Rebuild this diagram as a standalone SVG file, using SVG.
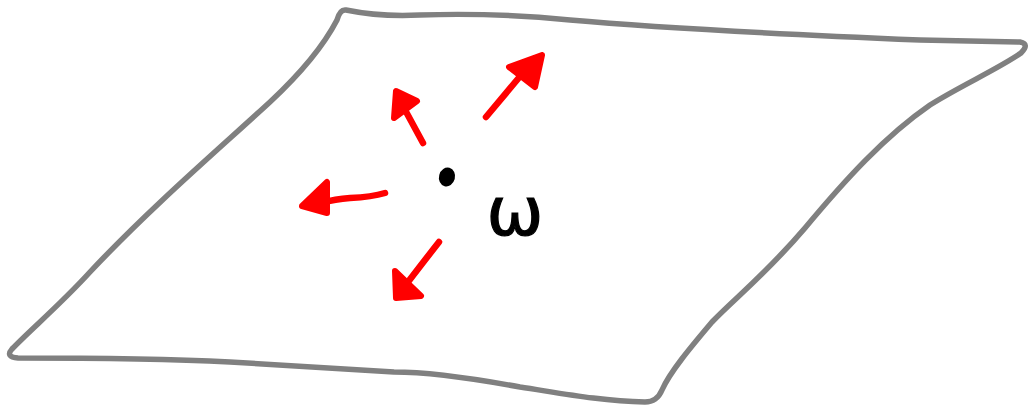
<svg xmlns="http://www.w3.org/2000/svg" width="1029" height="406" viewBox="0 0 1029 406">
<style>
.plane{fill:none;stroke:#808080;stroke-width:5.5;stroke-linecap:round;stroke-linejoin:round}
.arr{fill:none;stroke:#ff0000;stroke-width:6.5;stroke-linecap:round;stroke-linejoin:round}
.head{fill:#ff0000;stroke:#ff0000;stroke-width:6;stroke-linejoin:round}
</style>
<rect width="1029" height="406" fill="#ffffff"/>
<g id="plane">
<path class="plane" d="M 346 10 Q 380 17 420 15 C 480 13 530 16 570 20 C 660 28 800 35 920 40 L 1020 42 Q 1030 44 1021 53 C 1000 68 960 86 930 105 C 885 136 845 180 805 228 C 765 275 735 298 712 322 C 690 348 670 372 662 390 Q 657 402 645 402 C 600 401 560 393 520 387 C 460 376 420 372 394 372 C 330 368 280 365 230 362 C 150 358 60 358 18 358 Q 5 357 12 349 C 30 330 60 305 90 272 C 150 208 220 148 270 102 C 300 74 324 45 337 20 Q 340 9 346 10 Z"/>
</g>
<g id="point">
<ellipse cx="447" cy="177" rx="8" ry="9.5" fill="#000000" transform="rotate(15 447 177)"/>
<text x="515" y="235" font-family="DejaVu Sans, sans-serif" font-size="68" text-anchor="middle" fill="#000000" stroke="#000000" stroke-width="1.2">ω</text>
</g>
<g id="connectors">
<g id="arrow-ne">
<path class="arr" d="M 486 117 L 522 74"/>
<polygon class="head" points="542,55 509,67 535,87"/>
</g>
<g id="arrow-n">
<path class="arr" d="M 423 143 L 404 108"/>
<polygon class="head" points="396,91 394,118 417,101"/>
</g>
<g id="arrow-w">
<path class="arr" d="M 385 193 Q 372 197 350 198 Q 335 199 322 203"/>
<polygon class="head" points="302,206 327,182 327,213"/>
</g>
<g id="arrow-sw">
<path class="arr" d="M 439 242 Q 428 256 408 282"/>
<polygon class="head" points="396,298 395,271 421,296"/>
</g>
</g>
</svg>
